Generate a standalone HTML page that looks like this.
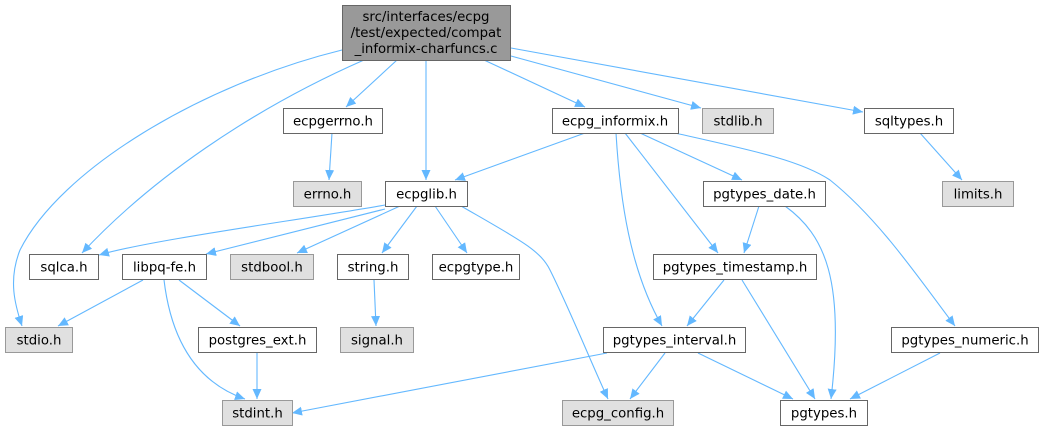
<!DOCTYPE html>
<html><head><meta charset="utf-8"><style>
html,body{margin:0;padding:0;background:#fff;}
svg{display:block;}
text{font-family:"DejaVu Sans","Liberation Sans",sans-serif;font-size:13.3px;fill:#000;}
</style></head><body>
<svg width="1045" height="432" viewBox="0 0 1045 432" xmlns="http://www.w3.org/2000/svg">
<defs>
<marker id="a" markerUnits="userSpaceOnUse" markerWidth="11" markerHeight="10" refX="10" refY="4.5" orient="auto">
<path d="M0,0 L10,4.5 L0,9 z" fill="#63b8ff"/>
</marker>
</defs>
<g fill="none" stroke="#63b8ff" stroke-width="1.1" marker-end="url(#a)">
<path d="M342,50 C200,85 60,170 20,250 C8,280 15,305 22,326"/>
<path d="M364,60 C250,110 150,180 82,253"/>
<path d="M397,60 L346,107"/>
<path d="M426,60 L426,180"/>
<path d="M484,60 L585,107"/>
<path d="M511,56 L701,108"/>
<path d="M511,48 L863,112"/>
<path d="M332,133 L329,180"/>
<path d="M920,133 L962,180"/>
<path d="M585,133 L455,180"/>
<path d="M640,133 L742,180"/>
<path d="M625,133 L718,253"/>
<path d="M616,133 C620,200 630,270 662,326"/>
<path d="M675,133 C750,150 800,160 830,180 C880,220 920,280 955,326"/>
<path d="M759,206 L744,253"/>
<path d="M785,206 C825,235 845,280 831,399"/>
<path d="M724,280 L687,326"/>
<path d="M742,280 L815,399"/>
<path d="M665,353 L630,399"/>
<path d="M698,353 L793,399"/>
<path d="M607,353 L292,413"/>
<path d="M940,353 L850,399"/>
<path d="M385,205 C300,220 150,240 99,255"/>
<path d="M385,209 L206,254"/>
<path d="M400,206 L297,253"/>
<path d="M417,206 L382,253"/>
<path d="M435,206 L467,253"/>
<path d="M461,206 C520,240 540,250 550,270 C570,310 590,360 608,399"/>
<path d="M143,280 L58,326"/>
<path d="M164,280 C170,330 190,380 245,399"/>
<path d="M179,280 L240,326"/>
<path d="M257,353 L257,399"/>
<path d="M374,280 L376,326"/>
</g>
<g stroke-width="1">
<rect x="342.5" y="5.5" width="168" height="55" fill="#999" stroke="#666"/>
<rect x="283.5" y="108.5" width="99" height="25" fill="#fff" stroke="#666"/>
<rect x="293.5" y="181.5" width="68" height="25" fill="#e0e0e0" stroke="#999"/>
<rect x="385.5" y="181.5" width="82" height="25" fill="#fff" stroke="#666"/>
<rect x="552.5" y="108.5" width="126" height="25" fill="#fff" stroke="#666"/>
<rect x="702.5" y="108.5" width="71" height="25" fill="#e0e0e0" stroke="#999"/>
<rect x="864.5" y="108.5" width="89" height="25" fill="#fff" stroke="#666"/>
<rect x="942.5" y="181.5" width="71" height="25" fill="#e0e0e0" stroke="#999"/>
<rect x="703.5" y="181.5" width="122" height="25" fill="#fff" stroke="#666"/>
<rect x="29.5" y="254.5" width="69" height="25" fill="#fff" stroke="#666"/>
<rect x="122.5" y="254.5" width="84" height="25" fill="#fff" stroke="#666"/>
<rect x="230.5" y="254.5" width="83" height="25" fill="#e0e0e0" stroke="#999"/>
<rect x="337.5" y="254.5" width="71" height="25" fill="#fff" stroke="#666"/>
<rect x="432.5" y="254.5" width="87" height="25" fill="#fff" stroke="#666"/>
<rect x="653.5" y="254.5" width="163" height="25" fill="#fff" stroke="#666"/>
<rect x="5.5" y="327.5" width="67" height="25" fill="#e0e0e0" stroke="#999"/>
<rect x="198.5" y="327.5" width="118" height="25" fill="#fff" stroke="#666"/>
<rect x="340.5" y="327.5" width="73" height="25" fill="#e0e0e0" stroke="#999"/>
<rect x="603.5" y="327.5" width="142" height="25" fill="#fff" stroke="#666"/>
<rect x="891.5" y="327.5" width="147" height="25" fill="#fff" stroke="#666"/>
<rect x="222.5" y="400.5" width="70" height="25" fill="#e0e0e0" stroke="#999"/>
<rect x="562.5" y="400.5" width="111" height="25" fill="#e0e0e0" stroke="#999"/>
<rect x="780.5" y="400.5" width="87" height="25" fill="#fff" stroke="#666"/>
</g>
<g text-anchor="middle">
<text x="426" y="21">src/interfaces/ecpg</text>
<text x="426" y="37">/test/expected/compat</text>
<text x="426" y="53">_informix-charfuncs.c</text>
<text x="333" y="125.5">ecpgerrno.h</text>
<text x="327.5" y="198.5">errno.h</text>
<text x="426.5" y="198.5">ecpglib.h</text>
<text x="615" y="125.5">ecpg_informix.h</text>
<text x="738" y="125.5">stdlib.h</text>
<text x="909" y="125.5">sqltypes.h</text>
<text x="978" y="198.5">limits.h</text>
<text x="764.5" y="198.5">pgtypes_date.h</text>
<text x="64" y="271.5">sqlca.h</text>
<text x="164.5" y="271.5">libpq-fe.h</text>
<text x="272" y="271.5">stdbool.h</text>
<text x="373" y="271.5">string.h</text>
<text x="476" y="271.5">ecpgtype.h</text>
<text x="735" y="271.5">pgtypes_timestamp.h</text>
<text x="39" y="344.5">stdio.h</text>
<text x="257.5" y="344.5">postgres_ext.h</text>
<text x="377" y="344.5">signal.h</text>
<text x="674.5" y="344.5">pgtypes_interval.h</text>
<text x="965" y="344.5">pgtypes_numeric.h</text>
<text x="257.5" y="417.5">stdint.h</text>
<text x="618" y="417.5">ecpg_config.h</text>
<text x="824" y="417.5">pgtypes.h</text>
</g>
</svg>
</body></html>
